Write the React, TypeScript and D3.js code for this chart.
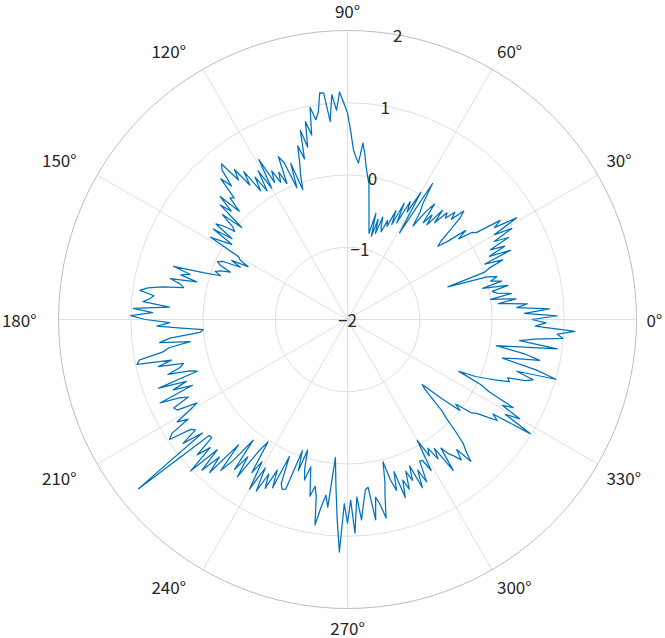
import React from "react";
import * as d3 from "d3";

// radial values, one per degree (0..359)
const rValues: number[] = [
  0.55, 0.9, 0.45, 0.8, 0.35, 0.5, 0.1, 0.35, 0.0, 0.3,
  0.1, 0.04, 0.27, -0.08, 0.2, 0.05, 0.15, 0.02, -0.54, 0.0,
  0.1, 0.3, 0.05, 0.45, 0.15, 0.4, 0.2, 0.5, 0.3, 0.6,
  0.35, 0.73, 0.4, 0.52, 0.15, 0.1, -0.1, 0.05, -0.25, -0.39,
  -0.31, -0.13, 0.09, 0.2, 0.0, 0.1, -0.05, 0.02, -0.2, 0.0,
  -0.29, -0.14, -0.3, 0.0, -0.15, -0.42, -0.2, -0.08, 0.22, -0.6,
  0.03, -0.3, -0.15, -0.5, -0.21, -0.55, -0.35, -0.6, -0.52, -0.7,
  -0.64, -0.5, -0.75, -0.55, -0.8, -0.48, -0.77, -0.68, -0.57, -0.44,
  -0.29, -0.1, 0.0, 0.12, 0.3, 0.45, 0.17, 0.25, 0.35, 0.6,
  0.86, 1.0, 1.15, 0.9, 1.12, 0.75, 1.15, 1.16, 0.9, 0.8,
  0.98, 0.6, 0.8, 0.45, 0.7, 0.3, 0.5, 0.26, 0.1, -0.1,
  0.3, -0.05, 0.34, 0.45, 0.06, 0.25, 0.11, 0.31, 0.15, 0.53,
  0.1, 0.4, 0.1, 0.35, 0.15, 0.5, 0.3, 0.6, 0.45, 0.77,
  0.7, 0.45, 0.62, 0.3, 0.34, 0.12, 0.45, 0.2, 0.37, -0.06,
  0.26, 0.05, -0.02, 0.15, 0.25, -0.05, 0.24, -0.09, 0.04, 0.21,
  -0.26, -0.3, -0.44, -0.2, -0.35, -0.1, -0.03, -0.09, -0.25, -0.12,
  -0.05, -0.14, 0.1, 0.52, 0.27, 0.39, 0.15, 0.52, 0.37, 0.31,
  0.6, 0.8, 0.9, 0.7, 0.75, 0.84, 0.47, 0.97, 0.7, 1.0,
  0.8, 0.46, 0.64, 0.3, 0.0, 0.05, 0.47, 0.62, 0.2, 0.5,
  0.6, 0.93, 0.98, 0.5, 0.7, 0.35, 0.41, 0.6, 0.3, 0.2,
  0.78, 0.39, 0.6, 0.33, 0.84, 0.57, 0.45, 0.7, 0.67, 0.38,
  0.54, 0.75, 0.6, 0.9, 0.97, 0.65, 0.6, 0.85, 0.55, 1.72,
  0.5, 0.49, 0.8, 0.6, 1.02, 0.55, 0.9, 0.6, 0.85, 0.3,
  0.73, 0.5, 0.12, 0.6, 0.35, 0.66, 0.2, 0.02, 0.5, 0.3,
  0.71, 0.35, 0.69, 0.4, 0.6, 0.3, 0.55, 0.06, 0.45, 0.52,
  0.5, -0.08, 0.2, -0.11, 0.15, 0.3, 0.1, 0.28, 0.5, 0.35,
  0.49, 0.88, 0.62, 0.45, 0.61, -0.08, 0.3, 0.75, 1.22, 0.55,
  0.82, 0.5, 0.96, 0.46, 0.78, 0.55, 0.37, 0.34, 0.8, 0.49,
  0.6, 0.8, 0.5, 0.3, 0.03, 0.3, 0.46, 0.2, 0.59, 0.35,
  0.5, 0.25, 0.4, 0.2, 0.55, 0.3, 0.5, 0.2, 0.21, 0.39,
  -0.07, 0.2, 0.1, 0.3, 0.15, 0.55, 0.2, 0.33, 0.4, 0.5,
  0.35, 0.6, 0.45, 0.35, 0.15, -0.06, -0.19, -0.4, -0.56, -0.63,
  -0.3, 0.0, -0.1, 0.15, 0.21, 0.35, 0.5, 0.4, 0.98, 0.55,
  0.75, 0.45, 0.6, 0.2, 0.05, -0.3, -0.06, 0.09, 0.25, 0.4,
  0.36, 0.6, 0.7, 0.45, 1.0, 0.71, 0.21, 0.4, 0.72, 0.5,
  0.09, 0.42, 0.93, 0.4, 0.6, 0.99, 0.91, 1.15, 0.6, 0.75,
];

const thetaTicks: number[] = [0, 30, 60, 90, 120, 150, 180, 210, 240, 270, 300, 330];
const rTicks: number[] = [-2, -1, 0, 1, 2];

const W = 665;
const H = 638;
const cx = 347.5;
const cy = 319.5;
const R = 289;

const fmt = (v: number) => (v < 0 ? "\u2212" + Math.abs(v) : String(v));

const App = () => {
  const rScale = d3.scaleLinear().domain([-2, 2]).range([0, R]);
  const aScale = d3.scaleLinear().domain([0, 360]).range([0, 2 * Math.PI]);

  // theta in degrees for each sample, closing back at 360
  const pts = rValues.map((v, i) => ({ t: i, v }));
  pts.push({ t: 360, v: rValues[0] });

  // d3 radial: 0 at top, clockwise -> convert from math angle
  const radial = d3
    .lineRadial<{ t: number; v: number }>()
    .angle((d) => Math.PI / 2 - aScale(d.t))
    .radius((d) => rScale(d.v));

  const font = "'Noto Sans CJK JP', 'Noto Sans', sans-serif";
  const labelR = R + 10;
  const rLabelAngle = aScale(80);

  return (
    <svg
      width={W}
      height={H}
      style={{ position: "absolute", left: 0, top: 0, background: "#fff" }}
    >
      <g transform={`translate(${cx},${cy})`}>
        {/* spokes */}
        {thetaTicks.map((t) => (
          <line
            key={"s" + t}
            x1={0}
            y1={0}
            x2={R * Math.cos(aScale(t))}
            y2={-R * Math.sin(aScale(t))}
            stroke="#dfdfdf"
            strokeWidth={1}
          />
        ))}
        {/* rings */}
        {rTicks.slice(1, -1).map((r) => (
          <circle key={"c" + r} r={rScale(r)} fill="none" stroke="#dfdfdf" strokeWidth={1} />
        ))}
        <circle r={R} fill="none" stroke="#bdbdbd" strokeWidth={1} />

        {/* data */}
        <path d={radial(pts) || ""} fill="none" stroke="#0072BD" strokeWidth={1.25} strokeLinejoin="round" />

        {/* radial tick labels */}
        {rTicks.map((r) => (
          <text
            key={"rl" + r}
            x={rScale(r) * Math.cos(rLabelAngle)}
            y={-rScale(r) * Math.sin(rLabelAngle)}
            textAnchor="middle"
            dominantBaseline="central"
            fontFamily={font}
            fontSize={17}
            fill="#262626"
          >
            {fmt(r)}
          </text>
        ))}

        {/* angle labels */}
        {thetaTicks.map((t) => {
          const a = aScale(t);
          const c = Math.cos(a);
          const s = Math.sin(a);
          let x = labelR * c;
          let y = -labelR * s;
          let anchor = "middle";
          if (c > 0.01) anchor = "start";
          else if (c < -0.01) {
            anchor = "end";
            x -= 12;
          }
          let baseline = "central";
          if (s > 0.01) {
            baseline = "alphabetic";
            y -= 3;
          } else if (s < -0.01) {
            baseline = "alphabetic";
            y += 16;
          }
          return (
            <text
              key={"tl" + t}
              x={x}
              y={y}
              textAnchor={anchor}
              dominantBaseline={baseline}
              fontFamily={font}
              fontSize={17}
              fill="#262626"
            >
              {t + "\u00b0"}
            </text>
          );
        })}
      </g>
    </svg>
  );
};

export default App;
